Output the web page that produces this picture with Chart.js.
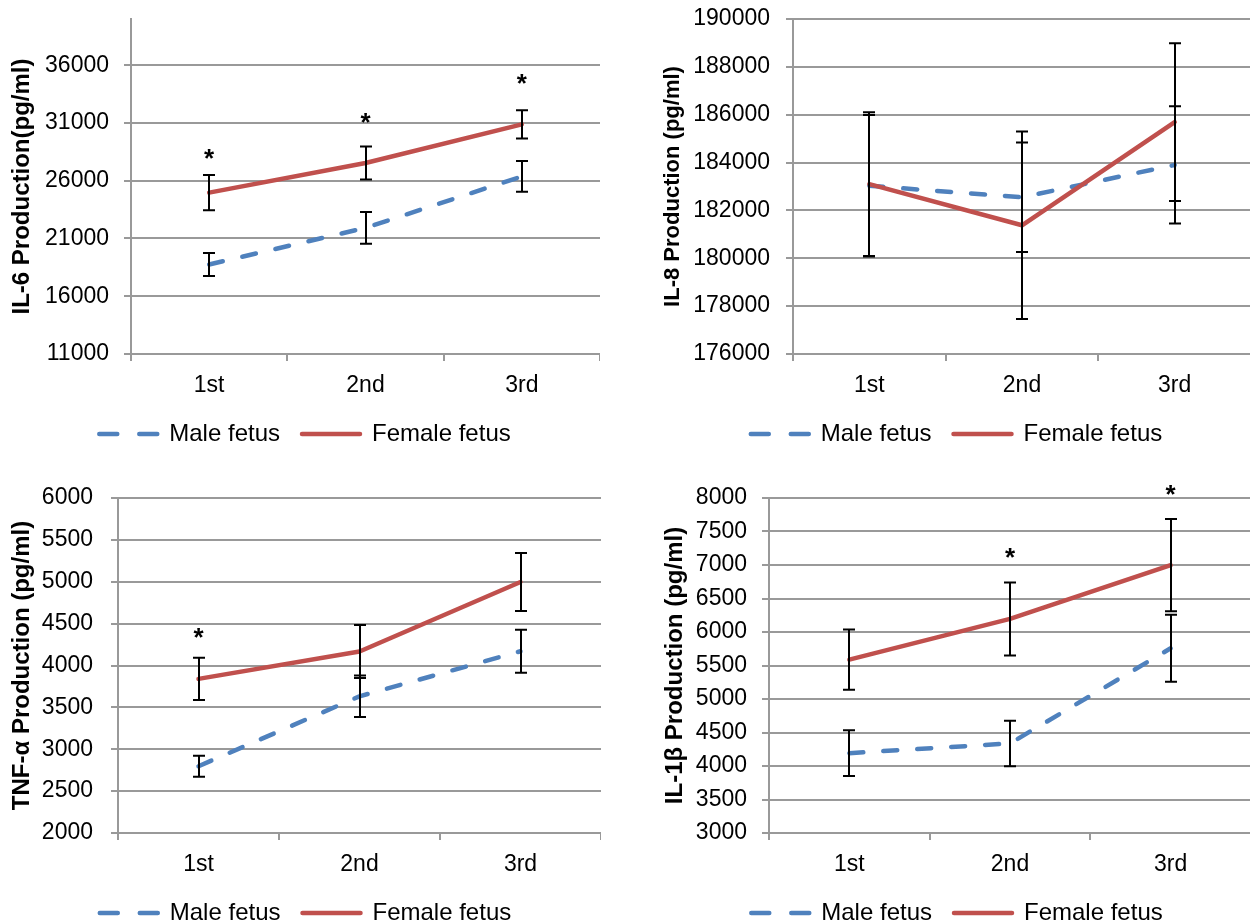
<!DOCTYPE html>
<html>
<head>
<meta charset="utf-8">
<script src="https://cdn.jsdelivr.net/npm/chart.js@4/dist/chart.umd.min.js"></script>
<style>
  html, body { margin: 0; padding: 0; background: #fff; width: 1250px; height: 924px; overflow: hidden; }
  canvas { position: absolute; }
</style>
</head>
<body>
<canvas id="il6" width="600" height="456" style="left:0;top:0"></canvas>
<canvas id="il8" width="621" height="456" style="left:630px;top:0"></canvas>
<canvas id="tnf" width="601" height="465" style="left:0;top:470px"></canvas>
<canvas id="il1b" width="621" height="465" style="left:630px;top:470px"></canvas>
<script>
// categories and series names
const stages = ["1st", "2nd", "3rd"];
const seriesNames = ["Male fetus", "Female fetus"];

// IL-6
const il6Male = [18750, 21920, 26370];
const il6MaleErr = [1000, 1380, 1330];
const il6Female = [24970, 27530, 30880];
const il6FemaleErr = [1520, 1430, 1220];
const il6Stars = [28240, 31350, 34700];
const il6Ticks = [11000, 16000, 21000, 26000, 31000, 36000];
const il6Max = 40000;

// IL-8
const il8Male = [183030, 182550, 183900];
const il8MaleErr = [2960, 2290, 2450];
const il8Female = [183100, 181380, 185690];
const il8FemaleErr = [3000, 3920, 3300];
const il8Stars = [null, null, null];
const il8Ticks = [176000, 178000, 180000, 182000, 184000, 186000, 188000, 190000];

// TNF-alpha
const tnfMale = [2797, 3632, 4170];
const tnfMaleErr = [125, 248, 256];
const tnfFemale = [3840, 4167, 4997];
const tnfFemaleErr = [252, 317, 345];
const tnfStars = [4377, null, null];
const tnfTicks = [2000, 2500, 3000, 3500, 4000, 4500, 5000, 5500, 6000];

// IL-1beta
const il1bMale = [4192, 4337, 5757];
const il1bMaleErr = [340, 340, 499];
const il1bFemale = [5588, 6195, 6998];
const il1bFemaleErr = [449, 545, 690];
const il1bStars = [null, 7160, 8104];
const il1bTicks = [3000, 3500, 4000, 4500, 5000, 5500, 6000, 6500, 7000, 7500, 8000];

const BLUE = '#4F81BD';
const RED = '#C0504D';
const GRID = '#999999';

Chart.defaults.font.family = '"Liberation Sans", Arial, sans-serif';
Chart.defaults.color = '#000';

// error bars + significance stars
const marks = {
    id: 'marks',
    afterDatasetsDraw(chart, args, opts) {
        const ctx = chart.ctx;
        const y = chart.scales.y;
        const x = chart.scales.x;
        ctx.save();
        ctx.strokeStyle = '#000';
        ctx.lineWidth = 2;
        ctx.setLineDash([]);
        chart.data.datasets.forEach((ds, di) => {
            const meta = chart.getDatasetMeta(di);
            ds.errors.forEach((e, i) => {
                const v = ds.data[i];
                const px = Math.round(meta.data[i].x);
                const top = y.getPixelForValue(v + e);
                const bot = y.getPixelForValue(v - e);
                ctx.beginPath();
                ctx.moveTo(px, top); ctx.lineTo(px, bot);
                ctx.moveTo(px - 6, top); ctx.lineTo(px + 6, top);
                ctx.moveTo(px - 6, bot); ctx.lineTo(px + 6, bot);
                ctx.stroke();
            });
        });
        ctx.fillStyle = '#000';
        ctx.font = 'bold 26px "Liberation Sans", Arial, sans-serif';
        ctx.textAlign = 'center';
        ctx.textBaseline = 'alphabetic';
        (opts.stars || []).forEach((s, i) => {
            if (s == null) return;
            ctx.fillText('*', x.getPixelForValue(i), y.getPixelForValue(s) + 12);
        });
        ctx.restore();
    }
};

function makeChart(id, male, maleErr, female, femaleErr, stars, ticks, max, title, lay) {
    return new Chart(document.getElementById(id), {
        type: 'line',
        data: {
            labels: stages,
            datasets: [{
                label: seriesNames[0],
                data: male,
                errors: maleErr,
                borderColor: BLUE,
                backgroundColor: BLUE,
                borderWidth: 4.5,
                borderDash: [14, 20],
                borderCapStyle: 'round',
                borderJoinStyle: 'round',
                pointRadius: 0,
                order: 1
            }, {
                label: seriesNames[1],
                data: female,
                errors: femaleErr,
                borderColor: RED,
                backgroundColor: RED,
                borderWidth: 4.5,
                borderCapStyle: 'round',
                borderJoinStyle: 'round',
                pointRadius: 0,
                order: 0
            }]
        },
        options: {
            responsive: false,
            animation: false,
            layout: { padding: { left: lay.padL, top: lay.padT, right: 0, bottom: 0 } },
            scales: {
                x: {
                    offset: true,
                    grid: { offset: true, drawOnChartArea: false, tickLength: 7, color: GRID, lineWidth: 2 },
                    border: { color: GRID, width: 2 },
                    ticks: { font: { size: 23 }, padding: 11, maxRotation: 0, color: '#000' },
                    afterFit: s => { s.height = 46; }
                },
                y: {
                    min: ticks[0],
                    max: max,
                    afterBuildTicks: s => { s.ticks = ticks.map(v => ({ value: v })); },
                    grid: { color: GRID, lineWidth: 2, tickLength: 7 },
                    border: { color: GRID, width: 2 },
                    ticks: { font: { size: 23 }, padding: lay.labelPad, autoSkip: false, color: '#000',
                        callback: v => String(v) },
                    title: { display: true, text: title, padding: 0, color: '#000',
                        font: { size: lay.titleSize, weight: 'bold', lineHeight: 1 } },
                    afterFit: s => {
                        s.width = lay.yWidth;
                        s.paddingTop = 0;
                        s.paddingBottom = 0;
                    }
                }
            },
            plugins: {
                tooltip: { enabled: false },
                marks: { stars: stars },
                legend: {
                    position: 'bottom',
                    labels: {
                        usePointStyle: true,
                        pointStyleWidth: 58,
                        padding: 22,
                        font: { size: 24 },
                        color: '#000',
                        sort: (a, b) => a.datasetIndex - b.datasetIndex,
                        generateLabels: chart => Chart.defaults.plugins.legend.labels.generateLabels(chart).map(item => {
                            const ds = chart.data.datasets[item.datasetIndex];
                            return Object.assign(item, {
                                pointStyle: 'line',
                                lineDash: ds.borderDash ? [18, 22] : [],
                                lineWidth: ds.borderWidth,
                                strokeStyle: ds.borderColor,
                                lineCap: 'round'
                            });
                        })
                    }
                }
            }
        },
        plugins: [marks]
    });
}

makeChart('il6', il6Male, il6MaleErr, il6Female, il6FemaleErr, il6Stars, il6Ticks, il6Max,
    'IL-6 Production(pg/ml)', { padL: 10, padT: 19, yWidth: 121, labelPad: 15, titleSize: 24 });
makeChart('il8', il8Male, il8MaleErr, il8Female, il8FemaleErr, il8Stars, il8Ticks, il8Ticks[il8Ticks.length - 1],
    'IL-8 Production (pg/ml)', { padL: 32, padT: 19, yWidth: 131, labelPad: 16, titleSize: 22 });
makeChart('tnf', tnfMale, tnfMaleErr, tnfFemale, tnfFemaleErr, tnfStars, tnfTicks, tnfTicks[tnfTicks.length - 1],
    'TNF-α Production (pg/ml)', { padL: 10, padT: 28, yWidth: 108, labelPad: 18, titleSize: 24 });
makeChart('il1b', il1bMale, il1bMaleErr, il1bFemale, il1bFemaleErr, il1bStars, il1bTicks, il1bTicks[il1bTicks.length - 1],
    'IL-1β Production (pg/ml)', { padL: 33, padT: 28, yWidth: 106, labelPad: 15, titleSize: 24 });
</script>
</body>
</html>
